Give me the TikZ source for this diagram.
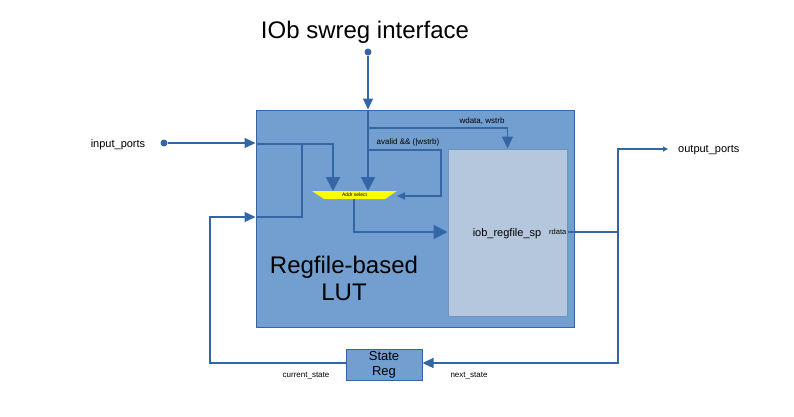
\documentclass[tikz,border=0pt]{standalone}
\usepackage{fontspec}
\setmainfont{Liberation Sans}
\usepackage{tikz}
\usetikzlibrary{arrows.meta, positioning, shapes.geometric, calc}
\definecolor{lutblue}{HTML}{729FCF}
\definecolor{rfblue}{HTML}{B4C7DC}
\definecolor{wireblue}{HTML}{3465A4}
\definecolor{muxyellow}{HTML}{FFFF00}

\begin{document}
\begin{tikzpicture}[
  x=1pt, y=-1pt,
  lut/.style={draw=wireblue, fill=lutblue, line width=1pt, minimum width=318pt,
              minimum height=217pt, inner sep=0pt},
  regfile/.style={draw=wireblue!70, fill=rfblue, line width=1pt, minimum width=119pt,
                  minimum height=167pt, inner sep=0pt},
  statereg/.style={draw=wireblue, fill=lutblue, line width=1pt, minimum width=76pt,
                   minimum height=31pt, inner sep=0pt, align=center,
                   font=\fontsize{13}{15}\selectfont},
  mux/.style={trapezium, trapezium angle=37, trapezium stretches=true,
              shape border rotate=180, fill=muxyellow, minimum width=85pt,
              minimum height=8pt, inner sep=0pt, font=\fontsize{5}{5}\selectfont},
  port/.style={circle, fill=wireblue, inner sep=0pt, minimum size=7pt},
  big/.style={font=\fontsize{24}{27}\selectfont, align=center},
  lbl/.style={font=\fontsize{8}{9}\selectfont, inner sep=1pt},
  wire/.style={draw=wireblue, line width=1.2pt,
               -{Triangle[length=11pt, width=10pt]}},
  smallwire/.style={draw=wireblue, line width=1.2pt,
                    -{Triangle[length=8pt, width=7pt]}},
  bus/.style={draw=wireblue, line width=2.2pt,
              -{Triangle[length=14pt, width=14pt]}},
  plain/.style={draw=wireblue, line width=1.2pt},
  thickplain/.style={draw=wireblue, line width=2.2pt}
]
  \useasboundingbox (0,0) rectangle (794,416);

  \node[big] (title) at (365,32) {IOb swreg interface};
  \node[port] (ifdot) at (368,52) {};

  \node[lut] (lut) at (415,218.5) {};
  \node[regfile] (rf) at (507.5,232.5) {};
  \node[mux] (mux) at (354.5,195) {Addr select};
  \node[statereg] (sreg) at (384,364.5) {State\\Reg};

  \node[big] (lutname) at (344,278) {Regfile-based\\LUT};
  \node[font=\fontsize{11}{12}\selectfont] (rfname) at (507,233.5) {iob\_regfile\_sp};
  \node[font=\fontsize{7.5}{8}\selectfont, anchor=east, inner sep=1pt] (rdata)
       at ([yshift=1pt]rf.east) {rdata};

  \node[font=\fontsize{11}{12}\selectfont] (inports) at (118,145) {input\_ports};
  \node[port] (indot) at (164,143) {};
  \node[font=\fontsize{11}{12}\selectfont, anchor=west, inner sep=1pt]
       (outports) at (677,150.5) {output\_ports};

  % swreg interface
  \draw[wire] (ifdot) -- (ifdot |- lut.north);
  \draw[bus] (ifdot |- lut.north) -- (368,191);
  \draw[draw=wireblue, line width=1.2pt, -{Triangle[length=12pt, width=11pt]}]
       (368,128) -- (rf.north |- 0,128) -- (rf.north);
  \node[lbl] (wlbl) at (482,121.5) {wdata, wstrb};
  \draw[smallwire] (368,150) -- (441,150) -- (441,196) -- (397,196);
  \node[lbl] (albl) at (408,142) {avalid \&\& (|wstrb)};

  % inputs into the mux
  \draw[wire] (indot) -- (lut.west |- indot);
  \draw[bus] (lut.west |- 0,144) -- (333,144) -- (333,191);
  \draw[thickplain] (302,144) -- (302,217) -- (lut.west |- 0,217);

  % mux to regfile
  \draw[bus] (354,199) -- (354,232) -- (rf.west |- 0,232);

  % rdata out and feedback
  \draw[plain] (rf.east |- 0,232) -- (618,232);
  \draw[draw=wireblue, line width=1.2pt, -{Triangle[length=5pt, width=5pt]}]
       (618,232) -- (618,149) -- (668,149);
  \draw[wire] (618,232) -- (618,363) -- (sreg.east |- 0,363);
  \draw[wire] (sreg.west |- 0,363) -- (210,363) -- (210,217) -- (lut.west |- 0,217);

  \node[lbl] (cur) at (306,376) {current\_state};
  \node[lbl] (nxt) at (469,376) {next\_state};
\end{tikzpicture}
\end{document}
